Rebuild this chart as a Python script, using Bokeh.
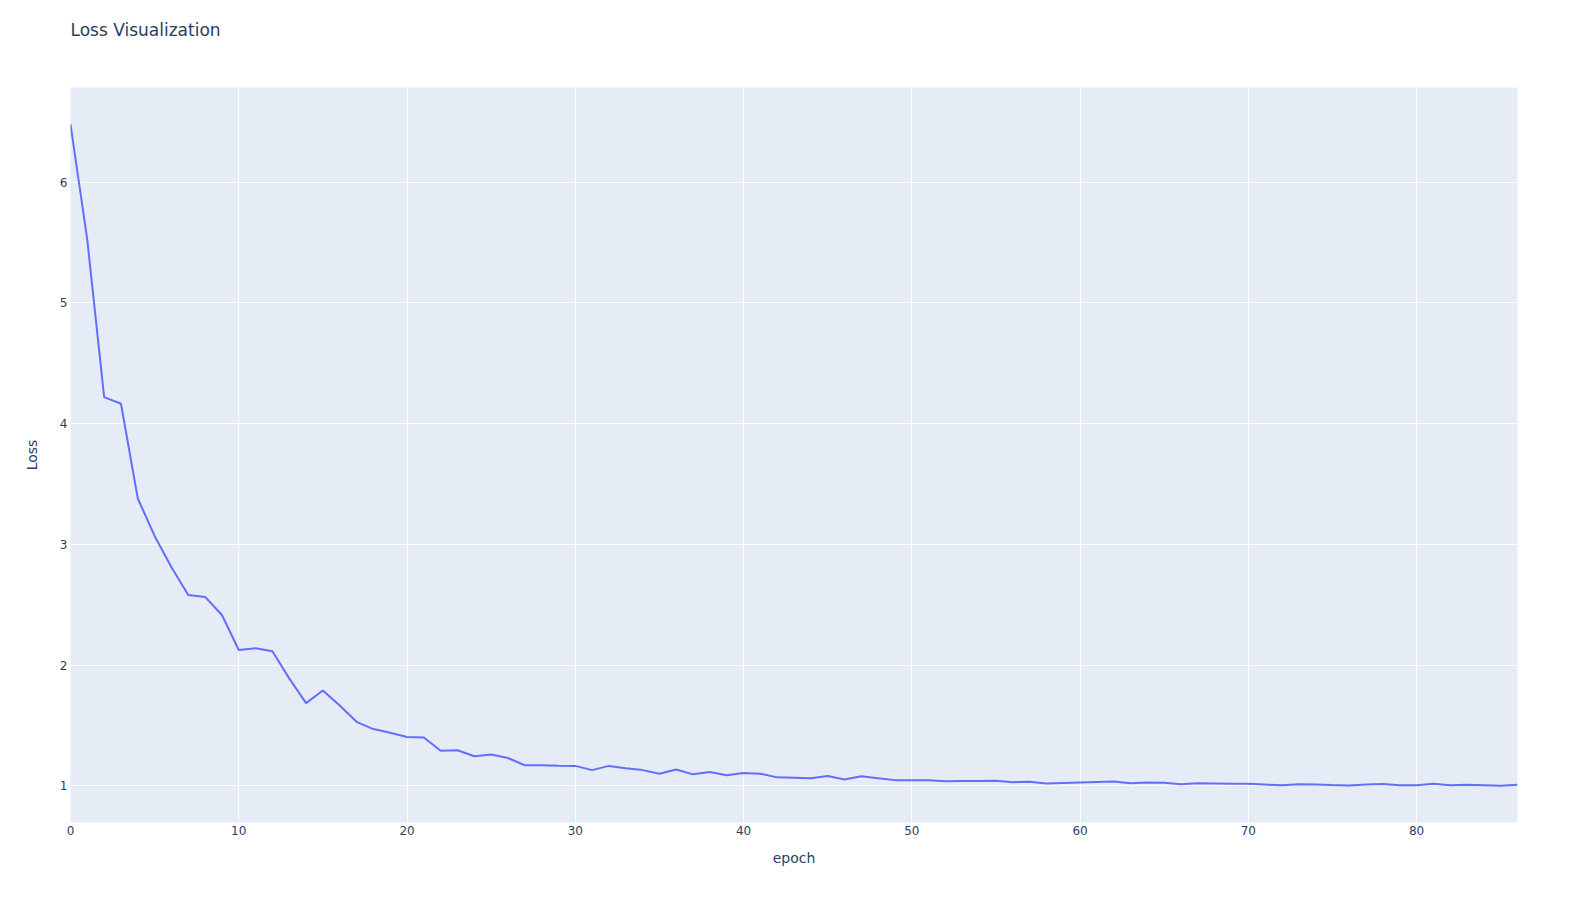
from bokeh.plotting import figure
from bokeh.models import Range1d, FixedTicker, Title
from bokeh.embed import file_html
from bokeh.resources import INLINE

title_text = "Loss Visualization"
x_label = "epoch"
y_label = "Loss"
x_ticks = [0, 10, 20, 30, 40, 50, 60, 70, 80]
y_ticks = [1, 2, 3, 4, 5, 6]
loss = [
    6.48, 5.52, 4.22, 4.165, 3.38, 3.07, 2.81, 2.58, 2.565, 2.415,
    2.125, 2.14, 2.115, 1.89, 1.685, 1.79, 1.665, 1.53, 1.47, 1.44,
    1.405, 1.40, 1.29, 1.295, 1.245, 1.26, 1.23, 1.17, 1.17, 1.167,
    1.165, 1.13, 1.165, 1.145, 1.13, 1.10, 1.135, 1.095, 1.115, 1.087,
    1.107, 1.10, 1.07, 1.067, 1.063, 1.082, 1.053, 1.08, 1.063, 1.047,
    1.045, 1.045, 1.037, 1.04, 1.04, 1.042, 1.03, 1.034, 1.02, 1.024,
    1.028, 1.032, 1.035, 1.022, 1.028, 1.025, 1.013, 1.021, 1.019, 1.016,
    1.016, 1.01, 1.004, 1.012, 1.01, 1.006, 1.003, 1.01, 1.014, 1.004,
    1.005, 1.018, 1.005, 1.008, 1.005, 1.0, 1.008,
]
epochs = list(range(len(loss)))

FONT = "DejaVu Sans"
INK = "#2a3f5f"

p = figure(
    width=1560, height=880, output_backend="svg", toolbar_location=None,
    x_range=Range1d(0, 86), y_range=Range1d(0.696, 6.785),
    min_border_left=70, min_border_right=43, min_border_top=87, min_border_bottom=58,
    background_fill_color="#ffffff", border_fill_color="#ffffff",
    title=title_text,
)
p.background_fill_color = "#e5ecf6"
p.outline_line_color = None

p.title.text_font = FONT
p.title.text_font_size = "17px"
p.title.text_font_style = "normal"
p.title.text_color = INK
p.title.align = "left"
p.title.standoff = 0

# Blank title between the real title and the plot area, lifting the real one
p.add_layout(Title(text=" ", text_font=FONT, text_font_size="17px", standoff=26), "above")

x_axis = p.below[0]
y_axis = p.left[0]

for ax in (x_axis, y_axis):
    ax.axis_line_color = None
    ax.major_tick_line_color = None
    ax.minor_tick_line_color = None
    ax.major_tick_out = 0
    ax.major_tick_in = 0
    ax.minor_tick_out = 0
    ax.minor_tick_in = 0
    ax.major_label_text_font = FONT
    ax.major_label_text_font_size = "12px"
    ax.major_label_text_color = INK
    ax.axis_label_text_font = FONT
    ax.axis_label_text_font_size = "14px"
    ax.axis_label_text_font_style = "normal"
    ax.axis_label_text_color = INK

x_axis.ticker = FixedTicker(ticks=x_ticks)
y_axis.ticker = FixedTicker(ticks=y_ticks)
x_axis.axis_label = x_label
y_axis.axis_label = y_label
x_axis.major_label_standoff = 3
y_axis.major_label_standoff = 3
x_axis.axis_label_standoff = 12
y_axis.axis_label_standoff = 17

p.grid.grid_line_color = "#ffffff"
p.grid.grid_line_width = 1
p.xgrid[0].ticker = FixedTicker(ticks=x_ticks)
p.ygrid[0].ticker = FixedTicker(ticks=y_ticks)

p.line(epochs, loss, line_color="#636efa", line_width=2)

open("out.html", "w").write(file_html(p, INLINE))
